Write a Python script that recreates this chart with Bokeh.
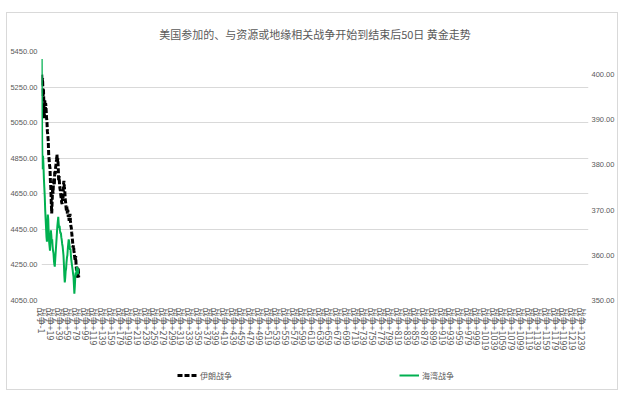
from bokeh.plotting import figure
from bokeh.layouts import column
from bokeh.models import (Range1d, LinearAxis, FixedTicker, PrintfTickFormatter,
                          Legend, LegendItem)
from bokeh.embed import file_html
from bokeh.resources import INLINE

title_text = "美国参加的、与资源或地缘相关战争开始到结束后50日 黄金走势"

# day index relative to war start (category "战争-1" ... )
days = list(range(-1, 85))

# 伊朗战争 (left axis)
iran = [5320, 5260, 5300, 5200, 5237, 5150, 5075, 5181, 5103, 5160,
        5131, 5080, 5058, 5002, 4980, 4946, 4873, 4840, 4810, 4795,
        4722, 4680, 4600, 4540, 4610, 4683, 4650, 4710, 4739, 4700,
        4778, 4760, 4800, 4817, 4840, 4870, 4830, 4850, 4795, 4722,
        4750, 4700, 4680, 4666, 4640, 4620, 4600, 4593, 4640, 4627,
        4700, 4722, 4690, 4666, 4620, 4600, 4571, 4550, 4580, 4537,
        4560, 4520, 4530, 4498, 4520, 4537, 4500, 4470, 4459, 4430,
        4403, 4380, 4347, 4360, 4330, 4313, 4290, 4274, 4300, 4250,
        4218, 4240, 4190, 4179, 4230, 4180]

# 海湾战争 (right axis)
gulf = [403.4, 385.0, 379.0, 382.0, 380.0, 377.0, 375.0, 373.0, 370.0, 368.0,
        366.0, 364.0, 363.0, 366.0, 369.0, 368.0, 365.0, 363.0, 362.0, 361.0,
        363.0, 365.5, 364.5, 363.0, 363.5, 362.0, 361.0, 360.5, 359.0, 358.0,
        357.5, 359.0, 360.5, 362.0, 363.5, 365.0, 366.5, 367.5, 368.5, 367.0,
        366.0, 366.5, 365.5, 364.8, 365.0, 364.0, 363.4, 362.5, 362.0, 361.0,
        360.0, 358.0, 355.5, 354.0, 355.0, 356.5, 357.0, 358.5, 359.5, 360.0,
        361.5, 362.5, 363.5, 363.0, 362.0, 361.2, 361.5, 360.0, 359.0, 358.2,
        357.5, 356.8, 356.0, 355.3, 353.5, 351.5, 353.0, 355.0, 356.2, 355.5,
        357.0, 357.5, 356.5, 355.8, 357.0, 356.8]

tick_days = list(range(-1, 1240, 20))
tick_labels = ["战争%+d" % d for d in tick_days]
left_ticks = list(range(4050, 5451, 200))
right_ticks = list(range(350, 401, 10))
series_names = ["伊朗战争", "海湾战争"]

GRAY = "#595959"
CJK = "Noto Sans CJK SC"
IRAN_STYLE = dict(line_color="black", line_width=3, line_dash="5 2")
GULF_STYLE = dict(line_color="#00b050", line_width=2)

p = figure(width=610, height=355,
           x_range=Range1d(-1.5, 1255.5), y_range=Range1d(4050, 5450),
           output_backend="svg", toolbar_location=None,
           min_border_left=31, min_border_right=26,
           min_border_top=37, min_border_bottom=68,
           title=title_text)
p.outline_line_color = None
p.background_fill_color = "white"
p.border_fill_color = "white"

p.title.align = "center"
p.title.text_font = CJK
p.title.text_font_size = "11px"
p.title.text_font_style = "normal"
p.title.text_color = GRAY
p.title.standoff = 20

p.xgrid.visible = False
p.ygrid.grid_line_color = "#d9d9d9"
p.ygrid.ticker = FixedTicker(ticks=left_ticks)

yax = p.yaxis[0]
yax.ticker = FixedTicker(ticks=left_ticks)
yax.formatter = PrintfTickFormatter(format="%.2f")

p.extra_y_ranges = {"gulf": Range1d(350, 405.05)}
rax = LinearAxis(y_range_name="gulf", ticker=FixedTicker(ticks=right_ticks),
                 formatter=PrintfTickFormatter(format="%.2f"))
p.add_layout(rax, "right")

for ax in (yax, rax):
    ax.axis_line_color = None
    ax.major_tick_line_color = None
    ax.minor_tick_line_color = None
    ax.major_tick_out = 0
    ax.major_tick_in = 0
    ax.minor_tick_out = 0
    ax.minor_tick_in = 0
    ax.major_label_text_font = "Liberation Sans"
    ax.major_label_text_font_size = "7.5px"
    ax.major_label_text_color = GRAY
yax.major_label_standoff = 4
rax.major_label_standoff = 3

xax = p.xaxis[0]
xax.ticker = FixedTicker(ticks=tick_days)
xax.major_label_overrides = dict(zip(tick_days, tick_labels))
xax.major_label_orientation = "vertical"
xax.major_label_text_font = CJK
xax.major_label_text_font_size = "9px"
xax.major_label_text_color = GRAY
xax.axis_line_color = None
xax.major_tick_line_color = None
xax.minor_tick_line_color = None
xax.major_tick_out = 0
xax.major_tick_in = 0
xax.minor_tick_out = 0
xax.minor_tick_in = 0
xax.major_label_standoff = 7

p.line(days, iran, **IRAN_STYLE)
p.line(days, gulf, y_range_name="gulf", **GULF_STYLE)

# legend strip below the chart (its lines fall outside its own empty view)
p2 = figure(width=610, height=21, x_range=Range1d(0, 1), y_range=Range1d(0, 1),
            output_backend="svg", toolbar_location=None, min_border=0)
p2.axis.visible = False
p2.grid.visible = False
p2.outline_line_color = None
l1 = p2.line(days, iran, **IRAN_STYLE)
l2 = p2.line(days, gulf, **GULF_STYLE)
legend = Legend(items=[LegendItem(label=series_names[0], renderers=[l1]),
                       LegendItem(label=series_names[1], renderers=[l2])],
                orientation="horizontal", spacing=167, location=(136, 8),
                border_line_color=None, background_fill_alpha=0,
                label_text_font=CJK, label_text_font_size="8px",
                label_text_color=GRAY, glyph_width=20, glyph_height=12,
                label_standoff=3, padding=2, margin=0)
p2.add_layout(legend, "center")

layout = column(p, p2, spacing=0)
layout.margin = (13, 0, 0, 7)
layout.styles = {"outline": "1px solid #d9d9d9"}

open("out.html", "w").write(file_html(layout, INLINE))
